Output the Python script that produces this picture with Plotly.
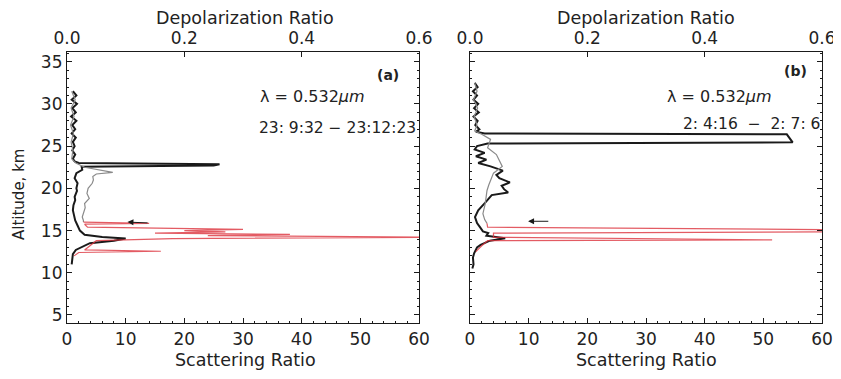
import plotly.graph_objects as go

# ---------------- data ----------------
# Panel (a): scattering ratio profile (black)
a_sr_alt = [31.5, 31.0, 30.5, 30.0, 29.5, 29.0, 28.5, 28.0, 27.5, 27.0, 26.5, 26.0, 25.5, 25.0,
            24.5, 24.0, 23.5, 23.2, 23.0, 22.85, 22.7, 22.55, 22.2, 21.8, 21.2, 20.6, 20.0, 19.7,
            19.0, 18.6, 18.0, 17.4, 16.8, 16.2, 15.6, 15.0, 14.5, 14.25, 14.05, 13.8, 13.5, 13.0,
            12.7, 12.2, 11.5, 11.0]
a_sr_val = [1.0, 1.6, 0.8, 1.7, 0.9, 1.5, 0.7, 1.6, 0.9, 1.4, 0.8, 1.5, 1.0, 1.3,
            0.9, 1.4, 1.0, 1.3, 2.0, 26.0, 25.0, 2.5, 2.6, 1.6, 1.3, 1.8, 1.6, 1.7,
            1.3, 1.4, 1.1, 1.0, 1.2, 1.4, 1.8, 2.2, 3.0, 6.0, 10.0, 8.0, 3.9, 2.5,
            1.5, 1.0, 0.9, 0.8]
# Panel (a): depolarization ratio profile (thin grey, upper part)
a_dp_alt = [31.5, 30.5, 29.5, 28.5, 27.5, 26.5, 25.5, 24.5, 23.5, 23.0, 22.5, 22.2, 21.9, 21.7,
            21.4, 21.0, 20.6, 20.0, 19.4, 18.8, 18.2, 17.7, 17.0, 16.6, 16.2, 16.0]
a_dp_val = [0.008, 0.014, 0.007, 0.012, 0.006, 0.011, 0.007, 0.010, 0.008, 0.015, 0.030, 0.055,
            0.078, 0.050, 0.044, 0.045, 0.043, 0.036, 0.034, 0.038, 0.030, 0.031, 0.028, 0.026,
            0.028, 0.028]
# Panel (a): depolarization ratio in the cloud layer (red)
a_dpc_alt = [16.0, 15.85, 15.75, 15.4, 15.15, 15.0, 14.85, 14.7, 14.55, 14.4, 14.2, 14.05, 13.8,
             13.2, 12.7, 12.55, 12.4, 12.0]
a_dpc_val = [0.028, 0.14, 0.030, 0.035, 0.30, 0.20, 0.27, 0.15, 0.38, 0.24, 0.65, 0.18, 0.05,
             0.04, 0.03, 0.16, 0.02, 0.012]

# Panel (b): scattering ratio profile (black)
b_sr_alt = [32.5, 32.0, 31.5, 31.0, 30.5, 30.0, 29.5, 29.0, 28.5, 28.0, 27.5, 27.0, 26.7, 26.5,
            26.4, 25.45, 25.3, 25.0, 24.6, 24.2, 23.8, 23.4, 23.0, 22.6, 22.1, 21.6, 21.2, 20.7,
            20.3, 19.9, 19.5, 19.2, 18.3, 17.4, 16.6, 15.9, 15.4, 14.9, 14.7, 14.4, 14.1, 13.8,
            13.3, 13.0, 12.3, 11.8, 11.0, 10.5]
b_sr_val = [0.8, 1.3, 0.5, 1.2, 0.6, 1.4, 0.7, 1.5, 0.6, 1.3, 0.9, 1.6, 1.0, 2.5,
            54.0, 55.0, 3.0, 1.2, 0.8, 2.5, 1.0, 2.8, 1.4, 3.5, 5.6, 4.5, 5.0, 6.8,
            5.4, 5.8, 6.5, 3.7, 2.6, 1.4, 0.85, 1.2, 1.7, 2.2, 3.1, 2.8, 6.0, 3.4,
            1.8, 1.2, 0.7, 0.5, 0.6, 0.4]
# Panel (b): depolarization ratio profile (thin grey, upper part)
b_dp_alt = [32.5, 31.5, 30.5, 29.5, 28.5, 27.5, 26.8, 26.4, 25.8, 24.8, 24.0, 23.3, 22.6, 21.8,
            21.0, 20.4, 19.75, 18.2, 17.0, 16.3, 15.85]
b_dp_val = [0.008, 0.012, 0.006, 0.013, 0.007, 0.012, 0.008, 0.020, 0.035, 0.030, 0.045, 0.050,
            0.055, 0.040, 0.035, 0.032, 0.029, 0.026, 0.022, 0.025, 0.029]
# Panel (b): depolarization ratio in the cloud layer (red)
b_dpc_alt = [15.85, 15.4, 15.1, 14.85, 14.7, 14.2, 13.9, 13.8, 13.2, 12.5]
b_dpc_val = [0.029, 0.030, 0.64, 0.62, 0.040, 0.040, 0.515, 0.030, 0.020, 0.010]

y_ticks = [5, 10, 15, 20, 25, 30, 35]
sr_ticks = [0, 10, 20, 30, 40, 50, 60]
dp_ticks = [0.0, 0.2, 0.4, 0.6]

# ---------------- figure ----------------
OFF = 8                          # the page body adds an 8px margin on every side
W, H = 841 - OFF, 379 - 2 * OFF  # keep the page from overflowing (no scrollbars)


def px(sx):
    return (sx - OFF) / W


def py(sy):
    return 1 - (sy - OFF) / H


fig = go.Figure()

BLACK = "#1a1a1a"
GREY = "#8a8a8a"
RED = "rgba(220,50,60,0.8)"

fig.add_trace(go.Scatter(x=a_dp_val, y=a_dp_alt, xaxis="x2", yaxis="y", mode="lines",
                         line=dict(color=GREY, width=1.2)))
fig.add_trace(go.Scatter(x=a_dpc_val, y=a_dpc_alt, xaxis="x2", yaxis="y", mode="lines",
                         line=dict(color=RED, width=1.2)))
fig.add_trace(go.Scatter(x=a_sr_val, y=a_sr_alt, xaxis="x", yaxis="y", mode="lines",
                         line=dict(color=BLACK, width=2)))

fig.add_trace(go.Scatter(x=b_dp_val, y=b_dp_alt, xaxis="x4", yaxis="y2", mode="lines",
                         line=dict(color=GREY, width=1.2)))
fig.add_trace(go.Scatter(x=b_dpc_val, y=b_dpc_alt, xaxis="x4", yaxis="y2", mode="lines",
                         line=dict(color=RED, width=1.2)))
fig.add_trace(go.Scatter(x=b_sr_val, y=b_sr_alt, xaxis="x3", yaxis="y2", mode="lines",
                         line=dict(color=BLACK, width=2)))

FONT = "DejaVu Sans"
tickfont = dict(family=FONT, size=17, color="#222")
yr = [4.05, 36.15]
ydom = [py(323), py(52)]
xa_dom = [px(67), px(419)]
xb_dom = [px(470), px(822)]


def xbottom(dom, anchor):
    return dict(domain=dom, range=[0, 60], tickvals=sr_ticks, ticks="inside", ticklen=5,
                showline=True, linecolor=BLACK, linewidth=1.2, tickcolor=BLACK,
                minor=dict(dtick=2, ticks="inside", ticklen=2, tickcolor=BLACK),
                showgrid=False, zeroline=False, anchor=anchor, tickfont=tickfont,
                automargin=False, ticklabeloverflow="allow")


def xtop(over, anchor):
    return dict(overlaying=over, side="top", range=[0, 0.6], tickvals=dp_ticks, tickformat=".1f",
                ticks="inside", ticklen=5, showline=True, linecolor=BLACK, linewidth=1.2,
                tickcolor=BLACK, showgrid=False, zeroline=False, anchor=anchor, tickfont=tickfont,
                automargin=False, ticklabeloverflow="allow")


def yax(dom, anchor, labels):
    return dict(domain=dom, range=yr, tickvals=y_ticks, ticks="inside", ticklen=5,
                showline=True, linecolor=BLACK, linewidth=1.2, tickcolor=BLACK, mirror="ticks",
                minor=dict(dtick=1, ticks="inside", ticklen=2, tickcolor=BLACK),
                showgrid=False, zeroline=False, anchor=anchor, showticklabels=labels,
                tickfont=tickfont, automargin=False)


fig.update_layout(
    width=W, height=H, margin=dict(l=0, r=0, t=0, b=0, autoexpand=False),
    paper_bgcolor="white", plot_bgcolor="white", showlegend=False,
    xaxis=xbottom(xa_dom, "y"),
    xaxis2=xtop("x", "y"),
    xaxis3=xbottom(xb_dom, "y2"),
    xaxis4=xtop("x3", "y2"),
    yaxis=yax(ydom, "x", True),
    yaxis2=yax(ydom, "x3", False),
)

ann = []
tfont = dict(family=FONT, size=17.5, color="#222")
for cx in [(67 + 419) / 2 + 2, (470 + 822) / 2]:
    ann.append(dict(text="Depolarization Ratio", x=px(cx), y=py(18), xref="paper", yref="paper",
                    showarrow=False, font=tfont, xanchor="center", yanchor="middle"))
    ann.append(dict(text="Scattering Ratio", x=px(cx), y=py(360), xref="paper", yref="paper",
                    showarrow=False, font=tfont, xanchor="center", yanchor="middle"))
ann.append(dict(text="Altitude, km", x=px(19), y=py(195), xref="paper", yref="paper",
                showarrow=False, font=dict(family=FONT, size=15, color="#222"), textangle=-90,
                xanchor="center", yanchor="middle"))

lfont = dict(family=FONT, size=16, color="#222")
mfont = dict(family=FONT, size=15.5, color="#222")
bfont = dict(family=FONT, size=14, color="#222")
ann += [
    dict(text="<b>(a)</b>", x=px(388), y=py(75), xref="paper", yref="paper", showarrow=False,
         font=bfont, xanchor="center", yanchor="middle"),
    dict(text="λ = 0.532<i>μm</i>", x=px(258), y=py(96), xref="paper", yref="paper",
         showarrow=False, font=lfont, xanchor="left", yanchor="middle"),
    dict(text="23: 9:32 − 23:12:23", x=px(257), y=py(128), xref="paper", yref="paper",
         showarrow=False, font=mfont, xanchor="left", yanchor="middle"),
    dict(text="<b>(b)</b>", x=px(795), y=py(71), xref="paper", yref="paper", showarrow=False,
         font=bfont, xanchor="center", yanchor="middle"),
    dict(text="λ = 0.532<i>μm</i>", x=px(665), y=py(96), xref="paper", yref="paper",
         showarrow=False, font=lfont, xanchor="left", yanchor="middle"),
    dict(text="2: 4:16  −  2: 7: 6", x=px(822), y=py(124), xref="paper", yref="paper",
         showarrow=False, font=mfont, xanchor="right", yanchor="middle"),
    dict(text="", x=10.3, y=16.0, ax=14.0, ay=15.9, xref="x", yref="y", axref="x", ayref="y",
         showarrow=True, arrowhead=2, arrowsize=1.2, arrowwidth=1, arrowcolor=BLACK),
    dict(text="", x=9.9, y=16.1, ax=13.6, ay=16.1, xref="x3", yref="y2", axref="x3", ayref="y2",
         showarrow=True, arrowhead=2, arrowsize=1.2, arrowwidth=1, arrowcolor=BLACK),
]
fig.update_layout(annotations=ann)

fig.write_html("out.html")
